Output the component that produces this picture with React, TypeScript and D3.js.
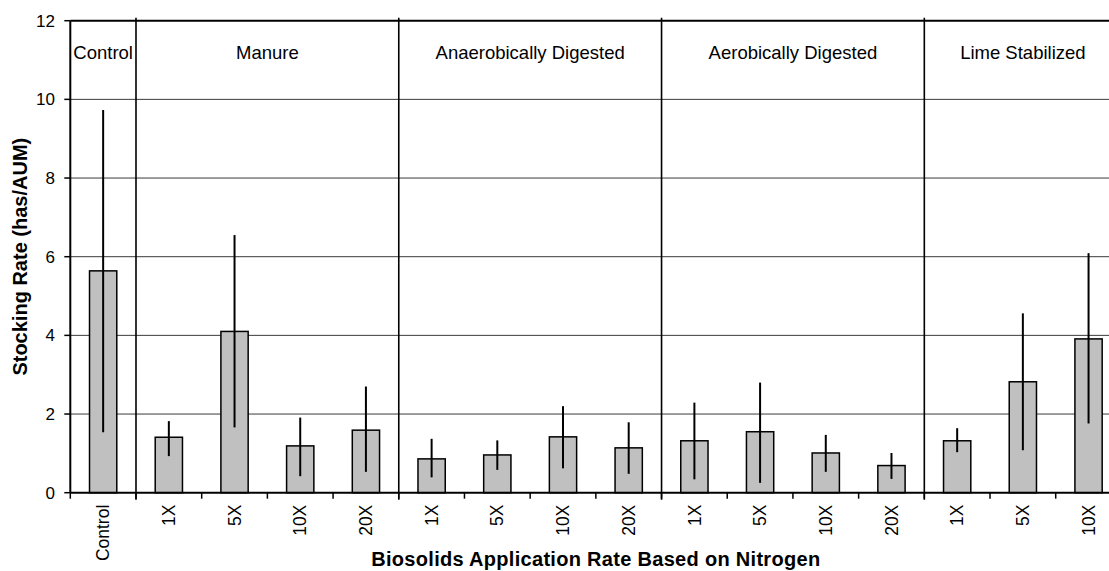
import * as d3 from 'd3'

// categories along the x axis (one per bar)
const categories = ['Control', '1X', '5X', '10X', '20X', '1X', '5X', '10X', '20X', '1X', '5X', '10X', '20X', '1X', '5X', '10X']
const groups = ['Control', 'Manure', 'Anaerobically Digested', 'Aerobically Digested', 'Lime Stabilized']
const groupSizes = [1, 4, 4, 4, 3]

// stocking rate means and error bar ends
const means = [5.64, 1.41, 4.1, 1.19, 1.59, 0.86, 0.96, 1.42, 1.14, 1.32, 1.55, 1.01, 0.69, 1.32, 2.82, 3.91]
const upper = [9.73, 1.82, 6.55, 1.91, 2.7, 1.37, 1.33, 2.2, 1.79, 2.29, 2.8, 1.47, 1.01, 1.64, 4.56, 6.09]
const lower = [1.54, 0.93, 1.66, 0.42, 0.53, 0.39, 0.58, 0.62, 0.48, 0.34, 0.25, 0.53, 0.35, 1.03, 1.08, 1.76]

const yTicks = [0, 2, 4, 6, 8, 10, 12]

const W = 1109
const H = 571
const font = '"Liberation Sans", Arial, sans-serif'

export default function App() {
  const left = 70.3
  const right = 1121.4
  const top = 20.7
  const bottom = 492.7

  const x = d3
    .scaleBand<number>()
    .domain(categories.map((_, i) => i))
    .range([left, right])
    .padding(0)
  const y = d3.scaleLinear().domain([0, 12]).range([bottom, top])
  const bw = x.bandwidth()
  const barW = bw * 0.415

  // group boundaries as category indices
  const starts: number[] = Array.from(d3.cumsum([0, ...groupSizes]))
  const edge = (i: number) => left + i * bw

  return (
    <svg
      width={W}
      height={H}
      style={{ position: 'absolute', left: 0, top: 0, background: '#fff', overflow: 'hidden' }}
      fontFamily={font}
    >
      {/* gridlines */}
      {yTicks.slice(1, -1).map((t) => (
        <line key={'g' + t} x1={left} x2={right} y1={y(t)} y2={y(t)} stroke="#3a3a3a" strokeWidth={1} />
      ))}
      <line x1={left} x2={right} y1={y(12)} y2={y(12)} stroke="#000" strokeWidth={2} />

      {/* bars */}
      {means.map((m, i) => {
        const cx = x(i)! + bw / 2
        return (
          <g key={'b' + i}>
            <rect
              x={cx - barW / 2}
              y={y(m)}
              width={barW}
              height={y(0) - y(m)}
              fill="#c0c0c0"
              stroke="#000"
              strokeWidth={1.5}
            />
            <line x1={cx} x2={cx} y1={y(upper[i])} y2={y(lower[i])} stroke="#000" strokeWidth={2} />
          </g>
        )
      })}

      {/* group dividers */}
      {starts.slice(1, -1).map((s) => (
        <line key={'d' + s} x1={edge(s)} x2={edge(s)} y1={top - 3} y2={bottom + 7} stroke="#000" strokeWidth={1.6} />
      ))}

      {/* group labels */}
      {groups.map((g, gi) => {
        const cx = (edge(starts[gi]) + edge(starts[gi + 1])) / 2
        return (
          <text key={'gl' + gi} x={cx} y={59} textAnchor="middle" fontSize={18.5} fill="#000">
            {g}
          </text>
        )
      })}

      {/* y axis */}
      <line x1={left} x2={left} y1={top} y2={bottom} stroke="#000" strokeWidth={2} />
      {yTicks.map((t) => (
        <g key={'y' + t}>
          <line x1={left - 6} x2={left} y1={y(t)} y2={y(t)} stroke="#000" strokeWidth={1.5} />
          <text x={55} y={y(t)} dy="0.35em" textAnchor="end" fontSize={17} fill="#000">
            {t}
          </text>
        </g>
      ))}

      {/* x axis */}
      <line x1={left} x2={right} y1={bottom} y2={bottom} stroke="#000" strokeWidth={2} />
      {d3.range(categories.length + 1).map((i) => (
        <line key={'xt' + i} x1={edge(i)} x2={edge(i)} y1={bottom} y2={bottom + 6} stroke="#000" strokeWidth={1.5} />
      ))}
      {categories.map((c, i) => {
        const cx = x(i)! + bw / 2
        return (
          <text
            key={'xl' + i}
            transform={`translate(${cx},${bottom + 12}) rotate(-90)`}
            dy="0.35em"
            textAnchor="end"
            fontSize={17.5}
            fill="#000"
          >
            {c}
          </text>
        )
      })}

      {/* axis titles */}
      <text
        x={(left + right) / 2}
        y={566}
        textAnchor="middle"
        fontSize={20}
        fontWeight="bold"
        letterSpacing={0.3}
        fill="#000"
      >
        Biosolids Application Rate Based on Nitrogen
      </text>
      <text
        transform={`translate(27,${(top + bottom) / 2}) rotate(-90)`}
        textAnchor="middle"
        fontSize={20}
        fontWeight="bold"
        fill="#000"
      >
        Stocking Rate (has/AUM)
      </text>
    </svg>
  )
}
